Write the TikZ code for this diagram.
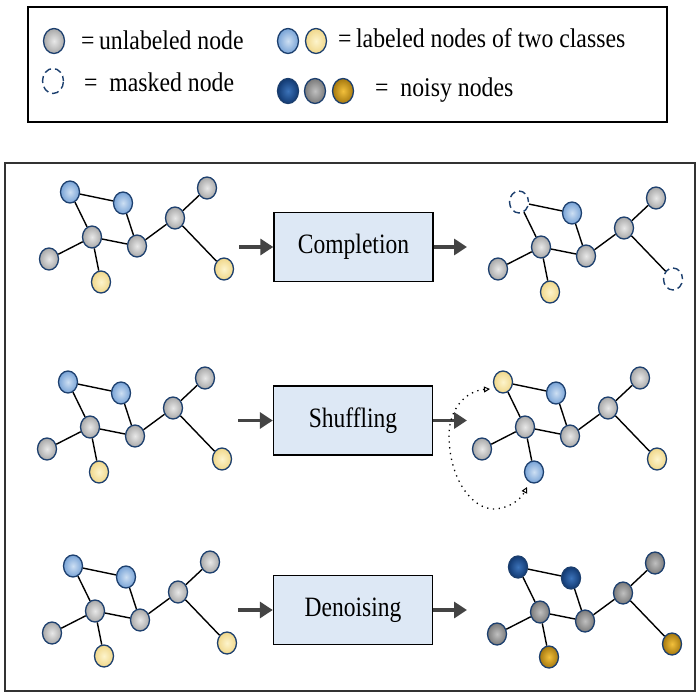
\documentclass[tikz,border=0pt]{standalone}
\usepackage{fontspec}
\setmainfont{Liberation Serif}
\newfontfamily\boxfont[FakeStretch=0.84]{Liberation Serif}
\newfontfamily\legfont[FakeStretch=0.88]{Liberation Serif}
\usetikzlibrary{shapes.geometric,arrows.meta}
\definecolor{navy}{HTML}{1C3F6E}
\definecolor{arrgray}{HTML}{444444}
\definecolor{boxfill}{HTML}{DDE8F5}
\tikzset{
  nd/.style={ellipse,draw=navy,line width=1.3pt,minimum width=19pt,minimum height=22pt,inner sep=0pt},
  lnd/.style={nd,minimum width=21pt,minimum height=25pt},
  gr/.style={shading=radial,inner color={rgb,255:red,232;green,232;blue,232},outer color={rgb,255:red,168;green,168;blue,168}},
  bl/.style={shading=radial,inner color={rgb,255:red,205;green,223;blue,243},outer color={rgb,255:red,120;green,163;blue,214}},
  ye/.style={shading=radial,inner color={rgb,255:red,253;green,244;blue,204},outer color={rgb,255:red,240;green,215;blue,138}},
  ngr/.style={shading=radial,inner color=black!25,outer color=black!52},
  nbl/.style={shading=radial,inner color={rgb,255:red,60;green,115;blue,185},outer color={rgb,255:red,18;green,58;blue,115}},
  ngo/.style={shading=radial,inner color={rgb,255:red,242;green,192;blue,60},outer color={rgb,255:red,165;green,120;blue,15}},
  msk/.style={draw=navy,line width=1.4pt,dash pattern=on 7pt off 4pt,dash phase=2pt},
  edge/.style={draw=black,line width=1.4pt},
  procbox/.style={draw=black,line width=1.4pt,fill=boxfill,minimum width=159pt,minimum height=69pt,inner sep=0pt,font=\boxfont\fontsize{28}{32}\selectfont},
  arr/.style={draw=arrgray,line width=3.5pt,-{Triangle[length=13pt,width=16pt]}},
  legtxt/.style={anchor=base west,inner sep=0pt,font=\legfont\fontsize{27}{30}\selectfont},
}
\newcommand\grph[7]{%
\begin{scope}[shift={#2}]
\node[nd,#3] (#1a) at (70,192) {};
\node[nd,#4] (#1b) at (123,203) {};
\node[nd,#7] (#1c) at (92,237) {};
\node[nd,#7] (#1d) at (137,246) {};
\node[nd,#7] (#1e) at (49,259) {};
\node[nd,#5] (#1f) at (101,282) {};
\node[nd,#7] (#1g) at (175,218) {};
\node[nd,#7] (#1h) at (207,188) {};
\node[nd,#6] (#1i) at (224,269) {};
\draw[edge] (#1a)--(#1b) (#1a)--(#1c) (#1b)--(#1d) (#1c)--(#1d) (#1c)--(#1e)
  (#1c)--(#1f) (#1d)--(#1g) (#1g)--(#1h) (#1g)--(#1i);
\end{scope}}
\begin{document}
\begin{tikzpicture}[x=1pt,y=-1pt]
\useasboundingbox[fill=white] (0,0) rectangle (700,700);
% legend
\draw[black,line width=1.4pt] (28,7) rectangle (667,122);
\node[lnd,gr] (lg1) at (54,41) {};
\node[legtxt] (lt1) at (81,50) {=\,unlabeled node};
\node[lnd,bl] (lg2) at (288,41) {};
\node[lnd,ye] (lg3) at (316,41) {};
\node[legtxt] (lt2) at (338,48) {=\,labeled nodes of two classes};
\node[lnd,msk] (lg4) at (53,81) {};
\node[legtxt] (lt3) at (84,92) {=\ \ masked node};
\node[lnd,nbl] (lg5) at (288,91) {};
\node[lnd,ngr] (lg6) at (315,91) {};
\node[lnd,ngo] (lg7) at (343,91) {};
\node[legtxt] (lt4) at (375,97) {=\ \ noisy nodes};
% main frame
\draw[black!80,line width=1.4pt] (5,163) rectangle (695,691);
% row 1
\grph{p}{(0,0)}{bl}{bl}{ye}{ye}{gr}
\grph{q}{(449,10)}{msk}{bl}{ye}{msk}{gr}
\node[procbox] (b1) at (353.5,247) {Completion};
\coordinate (l1) at (239,247);
\coordinate (r1) at (467,247);
\draw[arr] (l1) -- (b1.west);
\draw[arr] (b1.east) -- (r1);
% row 2
\grph{s}{(-2,190)}{bl}{bl}{ye}{ye}{gr}
\grph{t}{(433,190)}{ye}{bl}{bl}{ye}{gr}
\node[procbox] (b2) at (353,420.5) {Shuffling};
\coordinate (l2) at (238,420.5);
\coordinate (r2) at (467,420.5);
\draw[arr] (l2) -- (b2.west);
\draw[arr] (b2.east) -- (r2);
\coordinate (sw1) at (490,389);
\coordinate (sw2) at (527,487);
\draw[black,line width=1.3pt,dash pattern=on 1.3pt off 4.5pt,
  {Triangle[open,length=6pt,width=6pt,line width=1pt,sep=0pt]}-{Triangle[open,length=6pt,width=6pt,line width=1pt]}]
  (sw1) .. controls (465,391) and (449,410) .. (449,435)
  .. controls (449,480) and (473,510) .. (495,509)
  .. controls (510,508) and (521,499) .. (sw2);
% row 3
\grph{u}{(3,374)}{bl}{bl}{ye}{ye}{gr}
\grph{v}{(448,375)}{nbl}{nbl}{ngo}{ngo}{ngr}
\node[procbox] (b3) at (353,610) {Denoising};
\coordinate (l3) at (238,610);
\coordinate (r3) at (467,610);
\draw[arr] (l3) -- (b3.west);
\draw[arr] (b3.east) -- (r3);
\end{tikzpicture}
\end{document}
